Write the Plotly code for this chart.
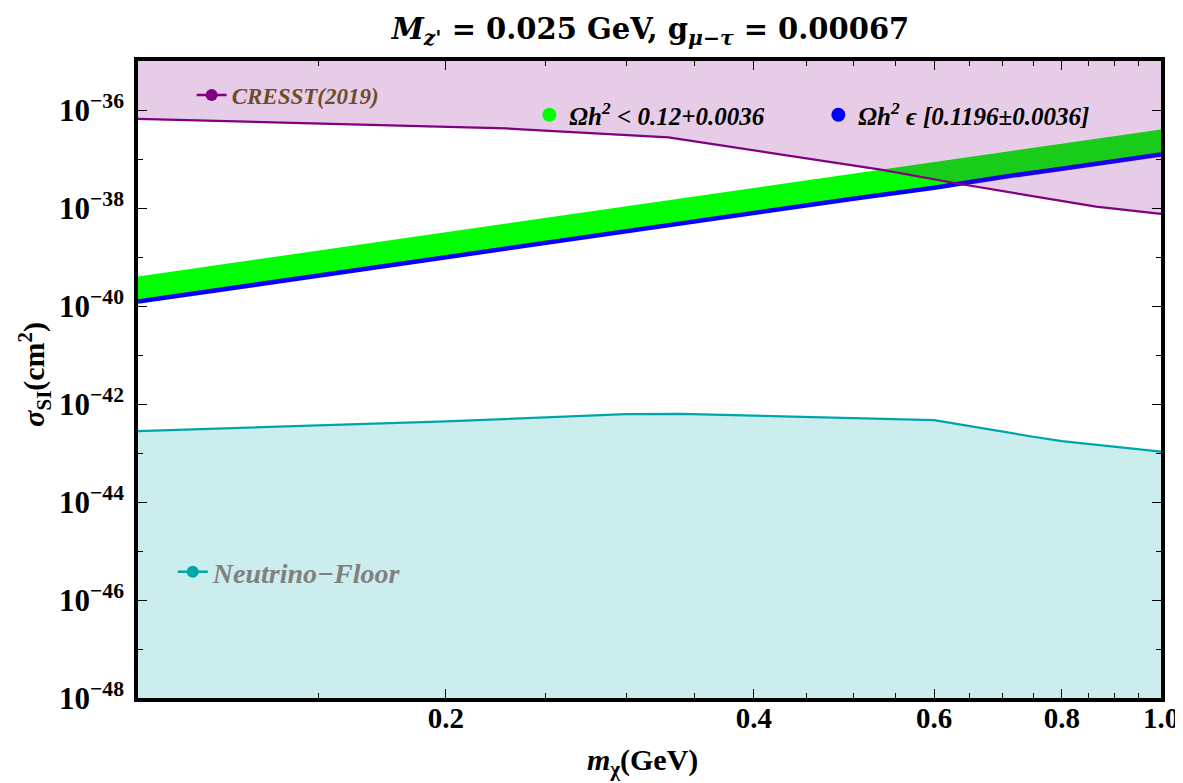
import math
import plotly.graph_objects as go

# ---------------- data ----------------
# CRESST (2019) exclusion line (excluded above)
M_CRESST = [0.10, 0.146, 0.229, 0.33, 0.534, 0.63, 0.736, 0.864, 1.00]
S_CRESST = [6.6e-37, 5.4e-37, 4.2e-37, 2.75e-37, 6.0e-38, 3.2e-38, 1.86e-38, 1.07e-38, 7.6e-39]

# Neutrino floor (shaded below)
M_NU = [0.10, 0.20, 0.30, 0.34, 0.60, 0.70, 0.75, 0.80, 1.00]
S_NU = [2.8e-43, 4.4e-43, 6.2e-43, 6.3e-43, 4.7e-43, 2.7e-43, 2.15e-43, 1.75e-43, 1.07e-43]

# Relic-density scan band
M_BAND = [0.10, 0.15, 0.20, 0.30, 0.40, 0.50, 0.60, 0.70, 0.80, 0.90, 1.00]
S_RELIC_EXACT = [1.23e-40, 4.2e-40, 9.8e-40, 3.3e-39, 7.9e-39, 1.55e-38, 2.6e-38, 4.3e-38, 6.3e-38, 8.9e-38, 1.23e-37]   # blue, lower edge
S_RELIC_UPPER = [4.0e-40, 1.35e-39, 3.2e-39, 1.07e-38, 2.6e-38, 5.0e-38, 8.5e-38, 1.38e-37, 2.04e-37, 2.9e-37, 4.0e-37]   # green, upper edge

# axes
X_RANGE = [0.1, 1.0]
Y_RANGE = [1e-48, 1e-35]
X_TICKS = [0.2, 0.4, 0.6, 0.8, 1.0]
X_TICK_LABELS = ["0.2", "0.4", "0.6", "0.8", "1.0"]
X_MINOR = [0.15, 0.25, 0.3, 0.35, 0.45, 0.5, 0.55, 0.65, 0.7, 0.75, 0.85, 0.9, 0.95]
Y_TICK_EXP = [-48, -46, -44, -42, -40, -38, -36]
Y_MINOR_EXP = [-47, -45, -43, -41, -39, -37]

# ---------------- styling ----------------
SERIF = "Liberation Serif"
WIDE_SERIF = "DejaVu Serif"
PURPLE = "#800080"
PURPLE_FILL = "rgba(128,0,128,0.2)"
TEAL = "#00A6A6"
TEAL_FILL = "rgba(0,166,166,0.2)"
GREEN = "#00FF00"
BLUE = "#0000FF"

y_tickvals = [10.0 ** e for e in Y_TICK_EXP]
y_ticktext = ["<b>10<sup>\u2212%d</sup></b>" % (-e) for e in Y_TICK_EXP]
y_minor = [10.0 ** e for e in Y_MINOR_EXP]

fig = go.Figure()

# neutrino floor: bottom boundary + line filled down to it
fig.add_trace(go.Scatter(x=M_NU, y=[Y_RANGE[0]] * len(M_NU), mode="lines",
                         line=dict(width=0, color=TEAL), showlegend=False, hoverinfo="skip"))
fig.add_trace(go.Scatter(x=M_NU, y=S_NU, mode="lines", fill="tonexty", fillcolor=TEAL_FILL,
                         line=dict(color=TEAL, width=2.2), showlegend=False))

# green band
fig.add_trace(go.Scatter(x=M_BAND, y=S_RELIC_EXACT, mode="lines",
                         line=dict(width=0, color=GREEN), showlegend=False, hoverinfo="skip"))
fig.add_trace(go.Scatter(x=M_BAND, y=S_RELIC_UPPER, mode="lines", fill="tonexty", fillcolor=GREEN,
                         line=dict(width=0, color=GREEN), showlegend=False))
# blue exact relic points
fig.add_trace(go.Scatter(x=M_BAND, y=S_RELIC_EXACT, mode="lines",
                         line=dict(color=BLUE, width=4.5), showlegend=False))

# CRESST: top boundary + line, filled between (drawn over the band)
fig.add_trace(go.Scatter(x=M_CRESST, y=[Y_RANGE[1]] * len(M_CRESST), mode="lines",
                         line=dict(width=0, color=PURPLE), showlegend=False, hoverinfo="skip"))
fig.add_trace(go.Scatter(x=M_CRESST, y=S_CRESST, mode="lines", fill="tonexty", fillcolor=PURPLE_FILL,
                         line=dict(color=PURPLE, width=2.2), showlegend=False))

# legend entries
fig.add_trace(go.Scatter(x=[None], y=[None], mode="lines+markers", name="<b><i>CRESST(2019)</i></b>",
                         line=dict(color=PURPLE, width=2.5), marker=dict(color=PURPLE, size=12),
                         legend="legend"))
fig.add_trace(go.Scatter(x=[None], y=[None], mode="markers",
                         name="<b><i>\u03a9h<sup>2</sup> &lt; 0.12+0.0036</i></b>",
                         marker=dict(color=GREEN, size=14), legend="legend2"))
fig.add_trace(go.Scatter(x=[None], y=[None], mode="markers",
                         name="<b><i>\u03a9h<sup>2</sup> \u03f5 [0.1196\u00b10.0036]</i></b>",
                         marker=dict(color=BLUE, size=14), legend="legend3"))
fig.add_trace(go.Scatter(x=[None], y=[None], mode="lines+markers", name="<b><i>Neutrino\u2212Floor</i></b>",
                         line=dict(color=TEAL, width=2.5), marker=dict(color=TEAL, size=12),
                         legend="legend4"))

W, H = 1183, 783
L, R, T, B = 130, 23, 53, 93
pw, ph = W - L - R, H - T - B


def px_x(px):
    return (px - L) / pw


def px_y(py):
    return (H - B - py) / ph


leg_common = dict(xanchor="left", yanchor="middle", bgcolor="rgba(0,0,0,0)", borderwidth=0)
fig.update_layout(
    width=W, height=H,
    margin=dict(l=L, r=R, t=T, b=B),
    paper_bgcolor="white", plot_bgcolor="white",
    font=dict(family=SERIF, color="black"),
    title=dict(text="<b><i>M</i><sub><i>z'</i></sub> = 0.025 GeV, g<sub><i>\u03bc\u2212\u03c4</i></sub> = 0.00067</b>",
               x=px_x(646), xref="paper", xanchor="center", y=1 - 21 / H, yref="container", yanchor="middle",
               font=dict(family=WIDE_SERIF, size=29, color="black")),
    legend=dict(x=px_x(184), y=px_y(87), font=dict(family=SERIF, size=23, color="#6E4B2A"), **leg_common),
    legend2=dict(x=px_x(524), y=px_y(107), font=dict(family=SERIF, size=25, color="black"), **leg_common),
    legend3=dict(x=px_x(815), y=px_y(107), font=dict(family=SERIF, size=25, color="black"), **leg_common),
    legend4=dict(x=px_x(165), y=px_y(564), font=dict(family=SERIF, size=28, color="#808080"), **leg_common),
    showlegend=True,
)

fig.update_xaxes(type="log", range=[math.log10(X_RANGE[0]), math.log10(X_RANGE[1])],
                 showgrid=False, zeroline=False,
                 showline=True, linecolor="black", linewidth=3.5, mirror="ticks",
                 ticks="inside", ticklen=9, tickwidth=1.3, tickcolor="black",
                 tickvals=X_TICKS, ticktext=["<b>%s</b>" % t for t in X_TICK_LABELS],
                 tickfont=dict(family=SERIF, size=29, color="black"), ticklabelstandoff=-9,
                 minor=dict(tickvals=X_MINOR, ticks="inside", ticklen=5, tickwidth=1, tickcolor="black"))
fig.update_yaxes(type="log", range=[math.log10(Y_RANGE[0]), math.log10(Y_RANGE[1])],
                 showgrid=False, zeroline=False,
                 showline=True, linecolor="black", linewidth=3.5, mirror="ticks",
                 ticks="inside", ticklen=9, tickwidth=1.3, tickcolor="black",
                 tickvals=y_tickvals, ticktext=y_ticktext,
                 tickfont=dict(family=SERIF, size=31, color="black"), ticklabelstandoff=4,
                 minor=dict(tickvals=y_minor, ticks="inside", ticklen=5, tickwidth=1, tickcolor="black"))

# axis titles
fig.add_annotation(text="<b><i>m</i><sub>\u03c7</sub>(GeV)</b>", xref="paper", yref="paper",
                   x=px_x(638), y=px_y(754), xanchor="center", yanchor="middle", showarrow=False,
                   font=dict(family=SERIF, size=30, color="black"))
fig.add_annotation(text="<b><i>\u03c3</i><sub>SI</sub>(cm<sup>2</sup>)</b>", xref="paper", yref="paper",
                   x=px_x(25), y=px_y(366), xanchor="center", yanchor="middle", showarrow=False,
                   textangle=-90, font=dict(family=SERIF, size=30, color="black"))

fig.write_html("out.html")
